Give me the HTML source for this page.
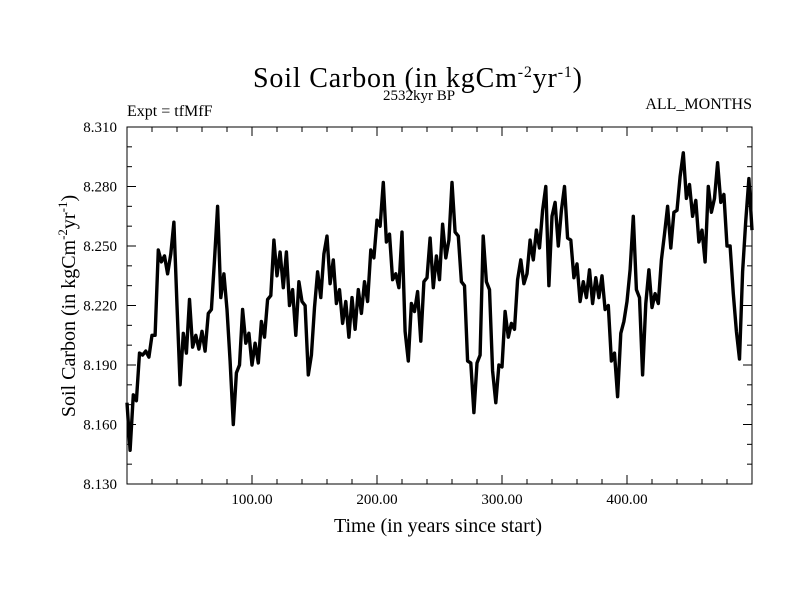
<!DOCTYPE html>
<html><head><meta charset="utf-8"><style>
body{margin:0;background:#fff}
svg{display:block;font-family:"Liberation Serif",serif}
</style></head><body>
<svg id="chart" width="800" height="600">
<rect width="800" height="600" fill="#fff"/>
<text x="253" y="87" font-size="28" textLength="329">Soil Carbon (in kgCm<tspan dy="-10" font-size="16">-2</tspan><tspan dy="10">yr</tspan><tspan dy="-10" font-size="16">-1</tspan><tspan dy="10">)</tspan></text>
<text x="383" y="100" font-size="15">2532kyr BP</text>
<text x="127" y="116" font-size="16">Expt = tfMfF</text>
<text x="752" y="109" font-size="16" text-anchor="end">ALL_MONTHS</text>
<text x="438" y="532" font-size="20" text-anchor="middle">Time (in years since start)</text>
<text transform="translate(75,306) rotate(-90)" font-size="20" text-anchor="middle">Soil Carbon (in kgCm<tspan dy="-8" font-size="13">-2</tspan><tspan dy="8">yr</tspan><tspan dy="-8" font-size="13">-1</tspan><tspan dy="8">)</tspan></text>
<g id="axes"></g>
<g id="series"></g>
</svg>
<script>
const xTicks=[100,200,300,400];
const xTickLabels=["100.00","200.00","300.00","400.00"];
const yTicks=[8.13,8.16,8.19,8.22,8.25,8.28,8.31];
const yTickLabels=["8.130","8.160","8.190","8.220","8.250","8.280","8.310"];
const yearStep=2.5;
const soilCarbon=[8.171,8.147,8.175,8.172,8.196,8.195,8.197,8.194,8.205,8.205,
8.248,8.242,8.245,8.236,8.246,8.262,8.220,8.180,8.206,8.196,
8.223,8.199,8.205,8.198,8.207,8.197,8.216,8.218,8.243,8.270,
8.224,8.236,8.218,8.192,8.160,8.186,8.190,8.218,8.201,8.206,
8.190,8.201,8.191,8.212,8.204,8.223,8.225,8.253,8.235,8.247,
8.229,8.247,8.220,8.228,8.205,8.232,8.222,8.220,8.185,8.195,
8.219,8.237,8.224,8.246,8.255,8.231,8.243,8.221,8.228,8.211,
8.222,8.204,8.224,8.208,8.228,8.216,8.232,8.222,8.248,8.244,
8.263,8.260,8.282,8.252,8.256,8.233,8.236,8.229,8.257,8.207,
8.192,8.221,8.217,8.227,8.202,8.232,8.234,8.254,8.229,8.245,
8.233,8.261,8.244,8.253,8.282,8.257,8.255,8.232,8.230,8.192,
8.191,8.166,8.191,8.195,8.255,8.232,8.228,8.187,8.171,8.190,
8.189,8.217,8.204,8.211,8.208,8.233,8.243,8.231,8.236,8.253,
8.243,8.258,8.249,8.268,8.280,8.230,8.265,8.272,8.250,8.268,
8.280,8.254,8.253,8.234,8.241,8.222,8.232,8.224,8.238,8.221,
8.234,8.224,8.235,8.218,8.220,8.192,8.196,8.174,8.206,8.212,
8.222,8.238,8.265,8.228,8.224,8.185,8.221,8.238,8.219,8.226,
8.221,8.243,8.256,8.270,8.249,8.267,8.268,8.285,8.297,8.274,
8.281,8.265,8.273,8.252,8.258,8.242,8.280,8.267,8.274,8.292,
8.272,8.276,8.250,8.250,8.226,8.207,8.193,8.237,8.263,8.284,8.258];

const L=127,R=752,T=127,B=484,XMIN=0,XMAX=500,YMIN=8.13,YMAX=8.31;
const sx=v=>L+(v-XMIN)/(XMAX-XMIN)*(R-L);
const sy=v=>B-(v-YMIN)/(YMAX-YMIN)*(B-T);
const NS="http://www.w3.org/2000/svg";
const axes=document.getElementById('axes');
function mk(tag,attrs,parent){const e=document.createElementNS(NS,tag);for(const k in attrs)e.setAttribute(k,attrs[k]);parent.appendChild(e);return e;}
const frame=mk('rect',{x:L,y:T,width:R-L,height:B-T,fill:'none',stroke:'#000','stroke-width':1},axes);


for(let v=20;v<XMAX;v+=20){
  const major=v%100===0, len=major?9:5;
  const t1=mk('line',{x1:sx(v),x2:sx(v),y1:B,y2:B-len,stroke:'#000'},axes);
  
  
  const t2=mk('line',{x1:sx(v),x2:sx(v),y1:T,y2:T+len,stroke:'#000'},axes);
  
  
}
for(let i=1;i<18;i++){
  const v=YMIN+i*0.01, major=i%3===0, len=major?9:5;
  const t1=mk('line',{x1:L,x2:L+len,y1:sy(v),y2:sy(v),stroke:'#000'},axes);
  
  
  const t2=mk('line',{x1:R,x2:R-len,y1:sy(v),y2:sy(v),stroke:'#000'},axes);
  
  
}
xTicks.forEach((v,i)=>{
  const t=mk('text',{x:sx(v),y:B+20,'font-size':15,'text-anchor':'middle'},axes);
  t.textContent=xTickLabels[i];
  
  
});
yTicks.forEach((v,i)=>{
  const t=mk('text',{x:L-10,y:sy(v)+5,'font-size':15,'text-anchor':'end'},axes);
  t.textContent=yTickLabels[i];
  
  
});
const pts=soilCarbon.map((v,i)=>sx(i*yearStep).toFixed(1)+','+sy(v).toFixed(1)).join(' ');
const line=mk('polyline',{points:pts,fill:'none',stroke:'#000','stroke-width':3.4,'stroke-linejoin':'round'},document.getElementById('series'));


</script>
</body></html>
